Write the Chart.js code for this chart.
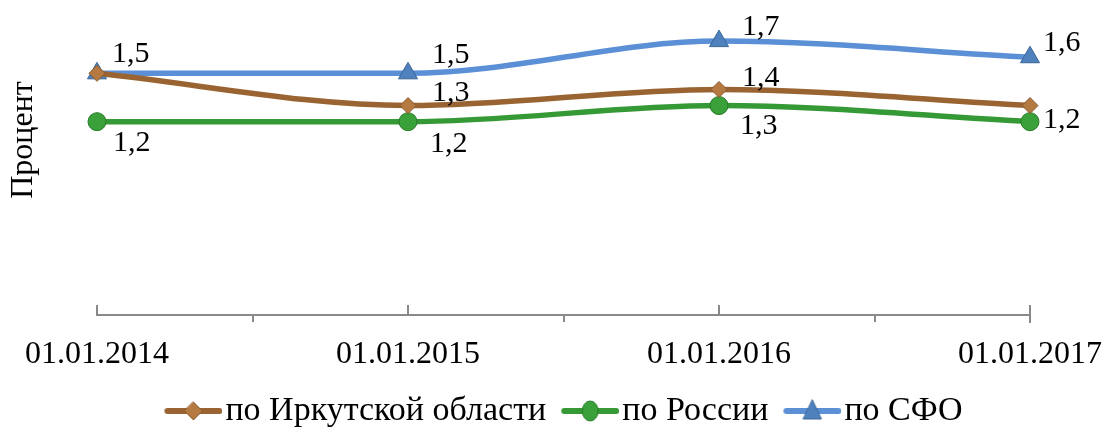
<!DOCTYPE html>
<html>
<head>
<meta charset="utf-8">
<script src="https://cdn.jsdelivr.net/npm/chart.js@4/dist/chart.umd.min.js"></script>
<style>
	html, body { margin: 0; padding: 0; background: #fff; overflow: hidden; }
	#wrap { width: 1104px; height: 438px; }
</style>
</head>
<body>
<div id="wrap"><canvas id="chartContainer"></canvas></div>
<script>
// categories and values
var dates = ["01.01.2014", "01.01.2015", "01.01.2016", "01.01.2017"];
var irkutsk = [1.5, 1.3, 1.4, 1.3];
var russia = [1.2, 1.2, 1.3, 1.2];
var sfo = [1.5, 1.5, 1.7, 1.6];
var seriesNames = ["по Иркутской области", "по России", "по СФО"];
var axisTitle = "Процент";

// which points carry a value label, with its offset from the point [dx, dy]
var labelOffsets = [
	[null, [24, -5], [23, -3], null],
	[[16, 29], [22, 30], [21, 28], [13, 6]],
	[[15, -11], [24, -10], [23, -6], [13, -6]],
];

var FONT = "'Liberation Serif', 'Times New Roman', serif";

function legendIcon(color, style, fill, border) {
	var c = document.createElement("canvas");
	c.width = 72;
	c.height = 24;
	var g = c.getContext("2d");
	g.strokeStyle = color;
	g.lineWidth = 6;
	g.lineCap = "round";
	g.beginPath();
	g.moveTo(17, 12);
	g.lineTo(69, 12);
	g.stroke();
	g.fillStyle = fill;
	g.strokeStyle = border;
	g.lineWidth = 1;
	g.beginPath();
	if (style == "rectRot") {
		g.moveTo(43, 3); g.lineTo(52, 12); g.lineTo(43, 21); g.lineTo(34, 12);
	} else if (style == "circle") {
		g.ellipse(43, 12, 8, 10, 0, 0, Math.PI * 2);
	} else {
		g.moveTo(43, 1); g.lineTo(52, 20); g.lineTo(34, 20);
	}
	g.closePath();
	g.fill();
	g.stroke();
	return c;
}

var icons = [
	legendIcon("#9a6432", "rectRot", "#b47a42", "#8a5a2b"),
	legendIcon("#359a35", "circle", "#3aa13a", "#287a28"),
	legendIcon("#5b8fd6", "triangle", "#4f81bd", "#3a6696"),
];

// value labels drawn next to the points
const valueLabels = {
	id: "valueLabels",
	afterDatasetsDraw(chart) {
		const ctx = chart.ctx;
		ctx.save();
		ctx.font = "30px " + FONT;
		ctx.fillStyle = "#000";
		ctx.textAlign = "left";
		ctx.textBaseline = "alphabetic";
		chart.data.datasets.forEach((ds, d) => {
			chart.getDatasetMeta(d).data.forEach((pt, i) => {
				const off = labelOffsets[d][i];
				if (!off) return;
				ctx.fillText(String(ds.data[i]).replace(".", ","), pt.x + off[0], pt.y + off[1]);
			});
		});
		ctx.restore();
	},
};

// Excel-like tick marks and the rotated axis title
const axisExtras = {
	id: "axisExtras",
	afterDraw(chart) {
		const ctx = chart.ctx;
		const x = chart.scales.x;
		const y0 = chart.chartArea.bottom;
		ctx.save();
		ctx.strokeStyle = "#898989";
		ctx.lineWidth = 2;
		ctx.beginPath();
		for (let i = 0; i < dates.length; i++) {
			const px = Math.round(x.getPixelForValue(i));
			ctx.moveTo(px, y0 - 10);
			ctx.lineTo(px, i == dates.length - 1 ? y0 + 8 : y0);
			if (i < dates.length - 1) {
				const mx = Math.round((px + x.getPixelForValue(i + 1)) / 2);
				ctx.moveTo(mx, y0);
				ctx.lineTo(mx, y0 + 7);
			}
		}
		ctx.stroke();

		ctx.translate(24, 140);
		ctx.rotate(-Math.PI / 2);
		ctx.font = "32px " + FONT;
		ctx.fillStyle = "#000";
		ctx.textAlign = "center";
		ctx.textBaseline = "middle";
		ctx.fillText(axisTitle, 0, 0);
		ctx.restore();
	},
};

function showChart() {
	const ctx = document.getElementById("chartContainer");

	const data = {
		labels: dates,
		datasets: [
			{
				label: seriesNames[0],
				data: irkutsk,
				borderColor: "#9a6432",
				backgroundColor: "#b47a42",
				pointBackgroundColor: "#b47a42",
				pointBorderColor: "#8a5a2b",
				pointStyle: "rectRot",
				pointRadius: 8,
			},
			{
				label: seriesNames[1],
				data: russia,
				borderColor: "#359a35",
				backgroundColor: "#3aa13a",
				pointBackgroundColor: "#3aa13a",
				pointBorderColor: "#287a28",
				pointStyle: "circle",
				pointRadius: 9,
			},
			{
				label: seriesNames[2],
				data: sfo,
				borderColor: "#5b8fd6",
				backgroundColor: "#4f81bd",
				pointBackgroundColor: "#4f81bd",
				pointBorderColor: "#3a6696",
				pointStyle: "triangle",
				pointRadius: 11,
			},
		],
	};

	new Chart(ctx, {
		type: "line",
		data: data,
		options: {
			responsive: true,
			maintainAspectRatio: false,
			animation: false,
			layout: { padding: { left: 97, right: 74, top: 25, bottom: 0 } },
			elements: {
				line: { borderWidth: 5.5, cubicInterpolationMode: "monotone" },
				point: { borderWidth: 1, hoverRadius: 10 },
			},
			scales: {
				y: { display: false, min: 0, max: 1.8 },
				x: {
					offset: false,
					grid: { display: true, drawOnChartArea: false, drawTicks: true, tickLength: 15, tickColor: "rgba(0,0,0,0)" },
					border: { display: true, color: "#898989", width: 2 },
					ticks: { color: "#000", font: { family: FONT, size: 32, lineHeight: 1.53 }, padding: 0, maxRotation: 0, autoSkip: false },
				},
			},
			plugins: {
				tooltip: { enabled: false },
				legend: {
					position: "bottom",
					labels: {
						usePointStyle: true,
						pointStyleWidth: 44,
						padding: 15,
						color: "#000",
						font: { family: FONT, size: 34 },
						generateLabels: (chart) =>
							Chart.defaults.plugins.legend.labels.generateLabels(chart).map((item, i) => {
								item.pointStyle = icons[i];
								return item;
							}),
					},
				},
			},
		},
		plugins: [valueLabels, axisExtras],
	});
}

showChart();
</script>
</body>
</html>
